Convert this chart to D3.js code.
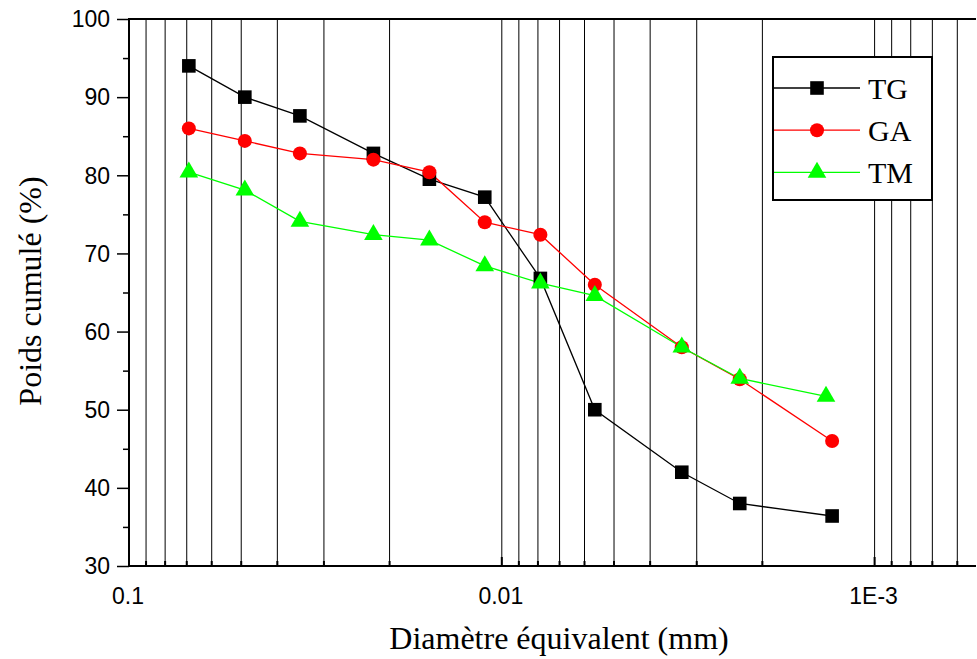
<!DOCTYPE html>
<html>
<head>
<meta charset="utf-8">
<script src="https://cdn.jsdelivr.net/npm/d3@7"></script>
<style>
  html, body { margin: 0; padding: 0; background: #fff; }
  svg { display: block; }
</style>
</head>
<body>
<svg id="chart" width="977" height="659"></svg>
<script>
// Diamètre équivalent (mm)
const diameters = [0.0691, 0.0489, 0.0348, 0.0221, 0.01564, 0.01111, 0.00788, 0.00563, 0.00329, 0.0023, 0.0013];
const diametersTM = [0.0691, 0.0489, 0.0348, 0.0221, 0.01564, 0.01111, 0.00788, 0.00563, 0.00329, 0.0023, 0.00135];

// Poids cumulé (%)
const tgValues = [94.0, 90.0, 87.6, 82.8, 79.5, 77.2, 66.8, 50.0, 42.0, 38.0, 36.4];
const gaValues = [86.0, 84.4, 82.8, 82.0, 80.4, 74.0, 72.4, 66.0, 58.0, 53.9, 46.0];
const tmValues = [80.4, 78.1, 74.1, 72.4, 71.7, 68.4, 66.2, 64.6, 58.0, 54.0, 51.7];

const seriesNames = ["TG", "GA", "TM"];
const seriesColors = ["#000000", "#ff0000", "#00ff00"];
const seriesShapes = [d3.symbolSquare, d3.symbolCircle, d3.symbolTriangle];

const yTicks = [30, 40, 50, 60, 70, 80, 90, 100];
const xMajor = [0.1, 0.01, 0.001];
const xLabels = ["0.1", "0.01", "1E-3"];

const svg = d3.select('#chart');

// plot area
const plotLeft = 129, plotTop = 19, plotBottom = 566, plotRight = 976;
const decade = 372.8;

const x = d3.scaleLog()
  .domain([0.1, 0.001])
  .range([plotLeft, plotLeft + 2 * decade]);

const y = d3.scaleLinear()
  .domain([30, 100])
  .range([plotBottom, plotTop]);

// minor log positions (grid lines)
let minors = [];
[0.1, 0.01, 0.001].forEach(p => {
  for (let k = 2; k <= 9; k++) {
    const v = p / 10 * k;
    if (x(v) < plotRight) minors.push(v);
  }
});
const gridVals = minors.concat([0.01, 0.001]);

svg.append('g')
  .selectAll('line')
  .data(gridVals)
  .join('line')
  .attr('x1', d => x(d)).attr('x2', d => x(d))
  .attr('y1', plotTop).attr('y2', plotBottom)
  .attr('stroke', '#000')
  .attr('stroke-width', 1);

// inward ticks on the bottom axis
svg.append('g')
  .selectAll('line')
  .data(minors.concat(xMajor))
  .join('line')
  .attr('x1', d => x(d)).attr('x2', d => x(d))
  .attr('y1', plotBottom).attr('y2', d => xMajor.includes(d) ? plotBottom - 9 : plotBottom - 5)
  .attr('stroke', '#000')
  .attr('stroke-width', 2);

// axis frame (left, bottom, top)
svg.append('path')
  .attr('d', `M${plotRight},${plotTop}H${plotLeft}V${plotBottom}H${plotRight}`)
  .attr('fill', 'none')
  .attr('stroke', '#000')
  .attr('stroke-width', 2);

// y axis ticks, outward
const yAxis = d3.axisLeft(y)
  .tickValues(d3.range(30, 101, 5))
  .tickSize(0)
  .tickFormat('');
const yg = svg.append('g').attr('transform', `translate(${plotLeft},0)`).call(yAxis);
yg.select('.domain').remove();
yg.selectAll('.tick line')
  .attr('x2', d => d % 10 === 0 ? -12 : -6)
  .attr('stroke', '#000')
  .attr('stroke-width', 1.5);

svg.append('g')
  .selectAll('text')
  .data(yTicks)
  .join('text')
  .attr('x', 110)
  .attr('y', d => y(d))
  .attr('dy', '0.36em')
  .attr('text-anchor', 'end')
  .attr('font-family', 'Liberation Sans, Arial, sans-serif')
  .attr('font-size', 23)
  .text(d => d);

svg.append('g')
  .selectAll('text')
  .data(xMajor)
  .join('text')
  .attr('x', d => x(d) - 1)
  .attr('y', 604)
  .attr('text-anchor', 'middle')
  .attr('font-family', 'Liberation Sans, Arial, sans-serif')
  .attr('font-size', 23)
  .text((d, i) => xLabels[i]);

// axis titles
svg.append('text')
  .attr('x', 559).attr('y', 649)
  .attr('text-anchor', 'middle')
  .attr('font-family', 'Liberation Serif, Times New Roman, serif')
  .attr('font-size', 32)
  .text('Diamètre équivalent (mm)');

svg.append('text')
  .attr('transform', 'translate(41,291) rotate(-90)')
  .attr('text-anchor', 'middle')
  .attr('font-family', 'Liberation Serif, Times New Roman, serif')
  .attr('font-size', 32)
  .text('Poids cumulé (%)');

// series
const series = [
  { xs: diameters, ys: tgValues },
  { xs: diameters, ys: gaValues },
  { xs: diametersTM, ys: tmValues }
];

const line = d3.line().x(d => x(d[0])).y(d => y(d[1]));
const symbolSizes = [185, 155, 150];

series.forEach((s, i) => {
  const pts = s.xs.map((d, j) => [d, s.ys[j]]);
  svg.append('path')
    .datum(pts)
    .attr('d', line)
    .attr('fill', 'none')
    .attr('stroke', seriesColors[i])
    .attr('stroke-width', 1.3);
});

series.forEach((s, i) => {
  const pts = s.xs.map((d, j) => [d, s.ys[j]]);
  svg.append('g')
    .selectAll('path')
    .data(pts)
    .join('path')
    .attr('transform', d => `translate(${x(d[0])},${y(d[1])})`)
    .attr('d', d3.symbol().type(seriesShapes[i]).size(symbolSizes[i]))
    .attr('fill', seriesColors[i]);
});

// legend
const lg = svg.append('g');
lg.append('rect')
  .attr('x', 773).attr('y', 57)
  .attr('width', 159).attr('height', 143)
  .attr('fill', '#fff')
  .attr('stroke', '#000')
  .attr('stroke-width', 2);

seriesNames.forEach((name, i) => {
  const ly = 88 + i * 42.2;
  lg.append('line')
    .attr('x1', 774).attr('x2', 860)
    .attr('y1', ly).attr('y2', ly)
    .attr('stroke', seriesColors[i])
    .attr('stroke-width', 1.3);
  lg.append('path')
    .attr('transform', `translate(817,${ly})`)
    .attr('d', d3.symbol().type(seriesShapes[i]).size(symbolSizes[i]))
    .attr('fill', seriesColors[i]);
  lg.append('text')
    .attr('x', 868).attr('y', ly)
    .attr('dy', '0.35em')
    .attr('font-family', 'Liberation Serif, Times New Roman, serif')
    .attr('font-size', 30)
    .text(name);
});
</script>
</body>
</html>
